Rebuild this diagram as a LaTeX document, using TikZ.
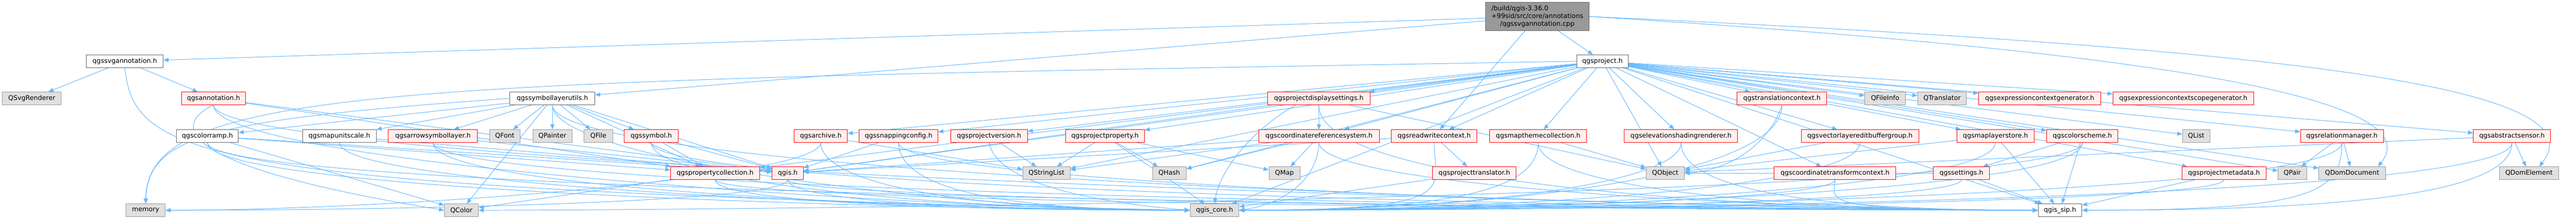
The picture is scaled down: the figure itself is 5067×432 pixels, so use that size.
\documentclass[tikz,border=0pt]{standalone}
\usepackage{fontspec}
\setmainfont{DejaVu Sans}
\usetikzlibrary{arrows.meta,backgrounds,calc}
\definecolor{edgec}{HTML}{63B8FF}
\definecolor{redfill}{HTML}{FFF0F0}
\definecolor{grayfill}{HTML}{E0E0E0}
\definecolor{rootfill}{HTML}{999999}
\newcommand\edgeL[3]{\draw[e] (#1.south) .. controls ($(#1.south)+(0,#3)$) and ($(#2.west)+(-450,0)$) .. (#2.west);}
\newcommand\edgeR[3]{\draw[e] (#1.south) .. controls ($(#1.south)+(0,#3)$) and ($(#2.east)+(450,0)$) .. (#2.east);}
\begin{document}
\begin{tikzpicture}[x=1pt,y=-1pt,
  base/.style={inner sep=0pt, minimum height=25pt, line width=1pt, font=\fontsize{12.8}{15}\selectfont, text=black},
  wbox/.style={base, draw=black!60, fill=white},
  rbox/.style={base, draw=red, fill=redfill},
  gbox/.style={base, draw=black!40, fill=grayfill},
  rootbox/.style={base, draw=black!60, fill=rootfill},
  e/.style={draw=edgec, line width=1pt, -{Triangle[length=10pt,width=8pt]}}]
\useasboundingbox (0,0) rectangle (5067,432);
% ---- nodes ----
\node[rootbox, minimum width=204pt, minimum height=55pt, align=left] (root) at (3024,32.5) {/build/qgis-3.36.0\\+99sid/src/core/annotations\\\hspace*{17pt}/qgssvgannotation.cpp};
% row 1
\node[wbox, minimum width=151pt] (svgann) at (245.5,120.5) {qgssvgannotation.h};
\node[wbox, minimum width=102pt] (project) at (3152,120.5) {qgsproject.h};
% row 2
\node[gbox, minimum width=115pt] (QSvgRenderer) at (62.5,193.5) {QSvgRenderer};
\node[rbox, minimum width=126pt] (annot) at (420,193.5) {qgsannotation.h};
\node[wbox, minimum width=167pt] (symlu) at (1086.5,193.5) {qgssymbollayerutils.h};
\node[rbox, minimum width=202pt] (dispset) at (2594,193.5) {qgsprojectdisplaysettings.h};
\node[rbox, minimum width=176pt] (transctx) at (3505,193.5) {qgstranslationcontext.h};
\node[gbox, minimum width=80pt] (QFileInfo) at (3708,193.5) {QFileInfo};
\node[gbox, minimum width=96pt] (QTranslator) at (3820,193.5) {QTranslator};
\node[rbox, minimum width=240pt] (exprgen) at (4012,193.5) {qgsexpressioncontextgenerator.h};
\node[rbox, minimum width=277pt] (exprscope) at (4294.5,193.5) {qgsexpressioncontextscopegenerator.h};
% row 3
\node[wbox, minimum width=122pt] (colorramp) at (408,267.5) {qgscolorramp.h};
\node[wbox, minimum width=145pt] (mapunit) at (667.5,267.5) {qgsmapunitscale.h};
\node[rbox, minimum width=175pt] (arrow) at (851.5,267.5) {qgsarrowsymbollayer.h};
\node[gbox, minimum width=60pt] (QFont) at (993,267.5) {QFont};
\node[gbox, minimum width=77pt] (QPainter) at (1086.5,267.5) {QPainter};
\node[gbox, minimum width=56pt] (QFile) at (1177,267.5) {QFile};
\node[rbox, minimum width=106pt] (symbol) at (1281,267.5) {qgssymbol.h};
\node[rbox, minimum width=105pt] (archive) at (1614.5,267.5) {qgsarchive.h};
\node[rbox, minimum width=155pt] (snap) at (1767.5,267.5) {qgssnappingconfig.h};
\node[rbox, minimum width=151pt] (projver) at (1945.5,267.5) {qgsprojectversion.h};
\node[rbox, minimum width=155pt] (projprop) at (2173.5,267.5) {qgsprojectproperty.h};
\node[rbox, minimum width=237pt] (crs) at (2594.5,267.5) {qgscoordinatereferencesystem.h};
\node[rbox, minimum width=168pt] (rwctx) at (2821,267.5) {qgsreadwritecontext.h};
\node[rbox, minimum width=191pt] (maptheme) at (3025.5,267.5) {qgsmapthemecollection.h};
\node[rbox, minimum width=223pt] (elev) at (3306.5,267.5) {qgselevationshadingrenderer.h};
\node[rbox, minimum width=231pt] (vleb) at (3658.5,267.5) {qgsvectorlayereditbuffergroup.h};
\node[rbox, minimum width=152pt] (mlstore) at (3925,267.5) {qgsmaplayerstore.h};
\node[rbox, minimum width=140pt] (colorscheme) at (4096,267.5) {qgscolorscheme.h};
\node[gbox, minimum width=54pt] (QList) at (4320,267.5) {QList};
\node[rbox, minimum width=163pt] (relmgr) at (4606.5,267.5) {qgsrelationmanager.h};
\node[rbox, minimum width=152pt] (sensor) at (4941,267.5) {qgsabstractsensor.h};
% row 4
\node[rbox, minimum width=175pt] (propcoll) at (1406.5,340.5) {qgspropertycollection.h};
\node[rbox, minimum width=61pt] (qgis) at (1549.5,340.5) {qgis.h};
\node[gbox, minimum width=93pt] (QStringList) at (2058.5,340.5) {QStringList};
\node[gbox, minimum width=66pt] (QHash) at (2300,340.5) {QHash};
\node[gbox, minimum width=61pt] (QMap) at (2526.5,340.5) {QMap};
\node[rbox, minimum width=164pt] (projtrans) at (2900,340.5) {qgsprojecttranslator.h};
\node[gbox, minimum width=75pt] (QObject) at (3275.5,340.5) {QObject};
\node[rbox, minimum width=239pt] (ctctx) at (3609.5,340.5) {qgscoordinatetransformcontext.h};
\node[rbox, minimum width=110pt] (settings) at (3858,340.5) {qgssettings.h};
\node[rbox, minimum width=165pt] (projmeta) at (4374.5,340.5) {qgsprojectmetadata.h};
\node[gbox, minimum width=56pt] (QPair) at (4509,340.5) {QPair};
\node[gbox, minimum width=131pt] (QDomDocument) at (4626.5,340.5) {QDomDocument};
\node[gbox, minimum width=117pt] (QDomElement) at (4974.5,340.5) {QDomElement};
% row 5
\node[gbox, minimum width=77pt] (memory) at (286.5,413.5) {memory};
\node[gbox, minimum width=67pt] (QColor) at (907.5,413.5) {QColor};
\node[gbox, minimum width=96pt] (qgiscore) at (2389,413.5) {qgis\_core.h};
\node[wbox, minimum width=86pt] (qgissip) at (4052,413.5) {qgis\_sip.h};
% ---- edges ----
\begin{pgfonlayer}{background}
\fill[white] (0,0) rectangle (5067,432);
% root
\foreach \t in {svgann,symlu,rwctx,project} \draw[e] (root) -- (\t);
\draw[e] (root.east) .. controls (4500,95) and (5120,170) .. ([xshift=20pt]QDomElement.north);
\draw[e] (root.east) .. controls (4300,105) and (4780,200) .. ([xshift=-15pt]QDomDocument.north east);
% qgssvgannotation.h
\draw[e] (svgann) -- (QSvgRenderer);
\draw[e] (svgann) -- (annot);
\draw[e] (svgann.south) .. controls (265,310) and (380,372) .. (qgiscore.west);
% qgsannotation.h
\draw[e] (annot) -- (qgis);
\draw[e] (annot) -- (propcoll);
\edgeL{annot}{qgiscore}{120}
\edgeL{annot}{qgissip}{130}
\draw[e] (annot.south) .. controls (330,250) and (360,330) .. (QColor.west);
% qgssymbollayerutils.h
\foreach \t in {arrow,QFont,QPainter,QFile,symbol,colorramp,mapunit,QColor,qgis,propcoll} \draw[e] (symlu) -- (\t);
\draw[e] (symlu.west) .. controls (420,235) and (292,265) .. (memory.north);
\edgeL{symlu}{qgiscore}{110}
\edgeL{symlu}{qgissip}{150}
% qgscolorramp.h
\draw[e] (colorramp) -- (QColor);
\draw[e] (colorramp) -- (qgis);
\draw[e] (colorramp) -- (propcoll);
\edgeL{colorramp}{qgiscore}{100}
\edgeL{colorramp}{qgissip}{110}
% qgsmapunitscale.h
\draw[e] (mapunit) -- (qgis);
\edgeL{mapunit}{qgiscore}{90}
% qgsarrowsymbollayer.h
\draw[e] (arrow) -- (qgis);
\edgeL{arrow}{qgiscore}{95}
\edgeL{arrow}{qgissip}{105}
% qgssymbol.h
\draw[e] (symbol) -- (qgis);
\draw[e] (symbol) -- (propcoll);
\edgeL{symbol}{qgiscore}{80}
\edgeL{symbol}{qgissip}{100}
% qgsarchive.h
\draw[e] (archive) -- (QStringList);
\edgeR{archive}{memory}{70}
\edgeL{archive}{qgiscore}{80}
% qgssnappingconfig.h
\draw[e] (snap) -- (qgis);
\edgeL{snap}{qgiscore}{70}
\edgeL{snap}{qgissip}{90}
% qgsprojectversion.h
\draw[e] (projver) -- (QStringList);
\draw[e] (projver.south) .. controls (1960,360) and (2150,398) .. (qgiscore.west);
% qgsprojectproperty.h
\foreach \t in {QStringList,QHash,QMap,qgiscore} \draw[e] (projprop) -- (\t);
% qgsprojectdisplaysettings.h
\draw[e] (dispset) -- (crs);
\draw[e] (dispset) -- (QObject);
\draw[e] (dispset) -- (qgis);
\draw[e] ([xshift=-45pt]dispset.south) .. controls (2470,250) and (2400,330) .. (qgiscore.north);
\edgeL{dispset}{qgissip}{170}
% qgscoordinatereferencesystem.h
\foreach \t in {QMap,QHash,QStringList,qgis} \draw[e] (crs) -- (\t);
\draw[e] (crs.south) .. controls (2590,370) and (2500,405) .. (qgiscore.east);
\edgeL{crs}{qgissip}{90}
% qgsreadwritecontext.h
\draw[e] (rwctx) -- (projtrans);
\draw[e] (rwctx) -- (qgis);
\edgeR{rwctx}{qgiscore}{90}
% qgsmapthemecollection.h
\draw[e] (maptheme) -- (QObject);
\edgeR{maptheme}{qgiscore}{85}
\edgeL{maptheme}{qgissip}{95}
% qgselevationshadingrenderer.h
\edgeR{elev}{qgiscore}{80}
\edgeL{elev}{qgissip}{90}
% qgstranslationcontext.h
\draw[e] (transctx.south) .. controls (3480,285) and (3400,335) .. (QObject.east);
\edgeR{transctx}{qgiscore}{150}
% qgsvectorlayereditbuffergroup.h
\draw[e] (vleb) -- (QObject);
\edgeR{vleb}{qgiscore}{95}
% qgsmaplayerstore.h
\draw[e] (mlstore) -- (QObject);
\draw[e] (mlstore) -- (qgissip);
\edgeR{mlstore}{qgiscore}{100}
% qgscolorscheme.h
\draw[e] (colorscheme) -- (qgissip);
\draw[e] (colorscheme) -- (settings);
\edgeR{colorscheme}{QColor}{110}
\edgeR{colorscheme}{qgiscore}{105}
% qgsrelationmanager.h
\draw[e] (relmgr) -- (QPair);
\draw[e] (relmgr) -- (QDomDocument);
\edgeR{relmgr}{qgiscore}{110}
\edgeR{relmgr}{qgissip}{100}
% qgsabstractsensor.h
\draw[e] (sensor) -- (QDomElement);
\draw[e] (sensor) -- (QObject);
\edgeR{sensor}{qgiscore}{120}
\edgeR{sensor}{qgissip}{110}
% qgspropertycollection.h
\draw[e] (propcoll) -- (QColor);
\edgeL{propcoll}{qgiscore}{45}
\edgeL{propcoll}{qgissip}{50}
% qgis.h
\edgeR{qgis}{memory}{45}
\edgeL{qgis}{qgiscore}{40}
\edgeL{qgis}{qgissip}{45}
% others
\draw[e] (projtrans) -- (qgiscore);
\edgeR{ctctx}{qgiscore}{40}
\edgeL{ctctx}{qgissip}{40}
\draw[e] (settings) -- (QObject);
\edgeR{settings}{qgiscore}{45}
\draw[e] (settings) -- (qgissip);
\draw[e] (projmeta) -- (qgissip);
\edgeR{projmeta}{qgiscore}{50}
% qgsproject.h
\foreach \t in {dispset,transctx,QFileInfo,QTranslator,exprgen,exprscope,snap,projver,projprop,crs,rwctx,maptheme,elev,vleb,mlstore,colorscheme,QList,relmgr,sensor,archive,propcoll,qgis,QStringList,QHash,QObject,ctctx,projmeta,QPair,QDomDocument,qgiscore,qgissip}
  \draw[e] (project) -- (\t);
\draw[e] (project.west) .. controls (800,160) and (290,165) .. (memory.north);
\end{pgfonlayer}
\end{tikzpicture}
\end{document}
